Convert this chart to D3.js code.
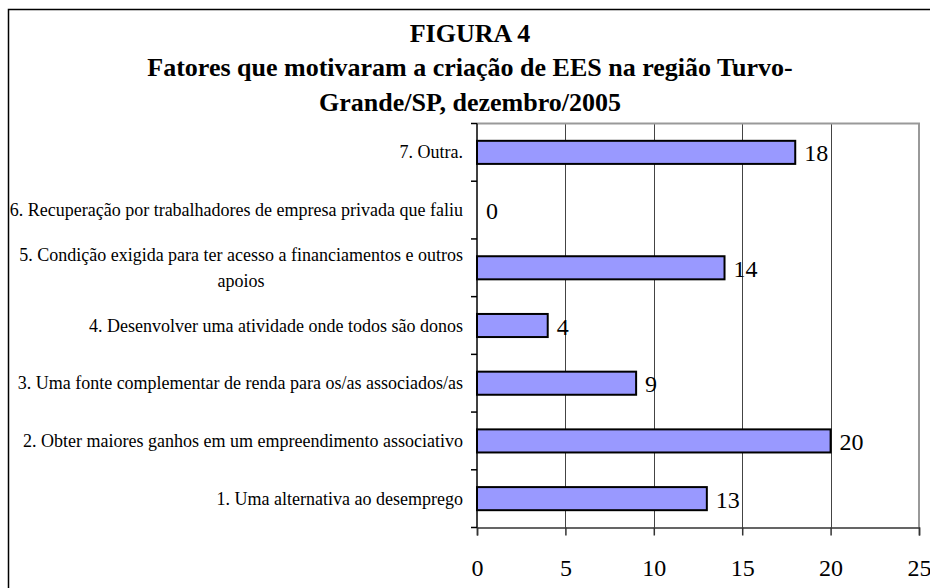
<!DOCTYPE html>
<html>
<head>
<meta charset="utf-8">
<script src="https://cdn.jsdelivr.net/npm/d3@7"></script>
<style>
  body { margin: 0; background: #fff; }
  svg { display: block; }
  text { font-family: "Liberation Serif", "Times New Roman", serif; fill: #000; }
</style>
</head>
<body>
<div id="chart"></div>
<script>
// data
var titleLines = ["FIGURA 4",
    "Fatores que motivaram a criação de EES na região Turvo-",
    "Grande/SP, dezembro/2005"];
var categories = [
    "1. Uma alternativa ao desemprego",
    "2. Obter maiores ganhos em um empreendimento associativo",
    "3. Uma fonte complementar de renda para os/as associados/as",
    "4. Desenvolver uma atividade onde todos são donos",
    "5. Condição exigida para ter acesso a financiamentos e outros apoios",
    "6. Recuperação por trabalhadores de empresa privada que faliu",
    "7. Outra."
];
var values = [13, 20, 9, 4, 14, 0, 18];
var xTicks = [0, 5, 10, 15, 20, 25];

var width = 930;
var height = 588;
var plotLeft = 477, plotRight = 919, plotTop = 123.5, plotBottom = 527.5;
var labelRight = 463;
var labelMaxWidth = 456;

var svg = d3.select("#chart").append("svg")
    .attr("width", width)
    .attr("height", height);

/*****************  Chart frame **********************/
svg.append("rect")
    .attr("x", 8.5)
    .attr("y", 9.5)
    .attr("width", 940)
    .attr("height", 600)
    .style("fill", "none")
    .style("stroke", "#000")
    .style("stroke-width", 1.5);

/*****************  Title **********************/
var titleY = [42, 76, 111];
svg.selectAll(".title")
    .data(titleLines)
    .enter()
    .append("text")
    .attr("class", "title")
    .attr("x", 470)
    .attr("y", function (d, i) { return titleY[i]; })
    .attr("text-anchor", "middle")
    .style("font-size", "26px")
    .style("font-weight", "bold")
    .text(function (d) { return d; });

/*****************  Scales **********************/
var x = d3.scaleLinear()
    .domain([0, 25])
    .range([plotLeft, plotRight]);

// category 7 at the top
var y = d3.scaleBand()
    .domain(categories.slice().reverse())
    .range([plotTop, plotBottom])
    .paddingInner(0.6)
    .paddingOuter(0.3);

var step = y.step();

/*****************  Grid lines **********************/
svg.selectAll(".grid")
    .data(xTicks.slice(1, -1))
    .enter()
    .append("line")
    .attr("class", "grid")
    .attr("x1", function (d) { return Math.round(x(d)) + 0.5; })
    .attr("x2", function (d) { return Math.round(x(d)) + 0.5; })
    .attr("y1", plotTop)
    .attr("y2", plotBottom)
    .style("stroke", "#444")
    .style("stroke-width", 1);

// plot area border (top and right, gray)
svg.append("path")
    .attr("d", "M" + plotLeft + "," + plotTop + "H" + plotRight + "V" + plotBottom)
    .style("fill", "none")
    .style("stroke", "#999")
    .style("stroke-width", 2);

/*****************  Bars **********************/
svg.selectAll(".bar")
    .data(values.map(function (v, i) { return { cat: categories[i], v: v }; })
        .filter(function (d) { return d.v > 0; }))
    .enter()
    .append("rect")
    .attr("class", "bar")
    .attr("x", x(0))
    .attr("y", function (d) { return y(d.cat); })
    .attr("width", function (d) { return x(d.v) - x(0); })
    .attr("height", y.bandwidth())
    .style("fill", "#9999FF")
    .style("stroke", "#000")
    .style("stroke-width", 2);

// value labels
svg.selectAll(".vlabel")
    .data(values)
    .enter()
    .append("text")
    .attr("class", "vlabel")
    .attr("x", function (d) { return x(d) + 9; })
    .attr("y", function (d, i) { return y(categories[i]) + y.bandwidth() / 2 + 9; })
    .style("font-size", "24px")
    .text(function (d) { return d; });

/*****************  Axes **********************/
var xAxis = d3.axisBottom(x)
    .tickValues(xTicks)
    .tickSize(8)
    .tickPadding(40)
    .tickFormat(d3.format("d"));

var gx = svg.append("g")
    .attr("transform", "translate(0," + plotBottom + ")")
    .call(xAxis);
gx.select(".domain").style("stroke", "#333").style("stroke-width", 1.5);
gx.selectAll(".tick line").style("stroke", "#333").style("stroke-width", 1.5);
gx.selectAll(".tick text")
    .style("font-size", "24px")
    .style("font-family", "'Liberation Serif', 'Times New Roman', serif")
    .attr("dy", "0");

// category axis: line plus tick marks between categories
svg.append("line")
    .attr("x1", plotLeft)
    .attr("x2", plotLeft)
    .attr("y1", plotTop)
    .attr("y2", plotBottom)
    .style("stroke", "#000")
    .style("stroke-width", 1.5);

var boundaries = d3.range(categories.length + 1).map(function (i) {
    return plotTop + i * step;
});
svg.selectAll(".ytick")
    .data(boundaries)
    .enter()
    .append("line")
    .attr("class", "ytick")
    .attr("x1", plotLeft - 6)
    .attr("x2", plotLeft)
    .attr("y1", function (d) { return d; })
    .attr("y2", function (d) { return d; })
    .style("stroke", "#000")
    .style("stroke-width", 1.5);

/*****************  Category labels **********************/
var lineGap = 26;
categories.forEach(function (c) {
    var g = svg.append("g").attr("class", "clabel");
    var words = c.split(" ");
    var lines = [];
    var current = [];
    var probe = g.append("text").style("font-size", "18px");
    words.forEach(function (w) {
        var tryLine = current.concat([w]).join(" ");
        probe.text(tryLine);
        if (current.length && probe.node().getComputedTextLength() > labelMaxWidth) {
            lines.push(current.join(" "));
            current = [w];
        } else {
            current.push(w);
        }
    });
    lines.push(current.join(" "));
    var widths = lines.map(function (l) {
        probe.text(l);
        return probe.node().getComputedTextLength();
    });
    probe.remove();
    var blockW = d3.max(widths);
    var cx = labelRight - blockW / 2;
    var cy = y(c) + y.bandwidth() / 2;
    var firstBase = cy + 6 - (lines.length - 1) * lineGap / 2;
    lines.forEach(function (l, k) {
        g.append("text")
            .attr("x", cx)
            .attr("y", firstBase + k * lineGap)
            .attr("text-anchor", "middle")
            .style("font-size", "18px")
            .text(l);
    });
});
</script>
</body>
</html>
